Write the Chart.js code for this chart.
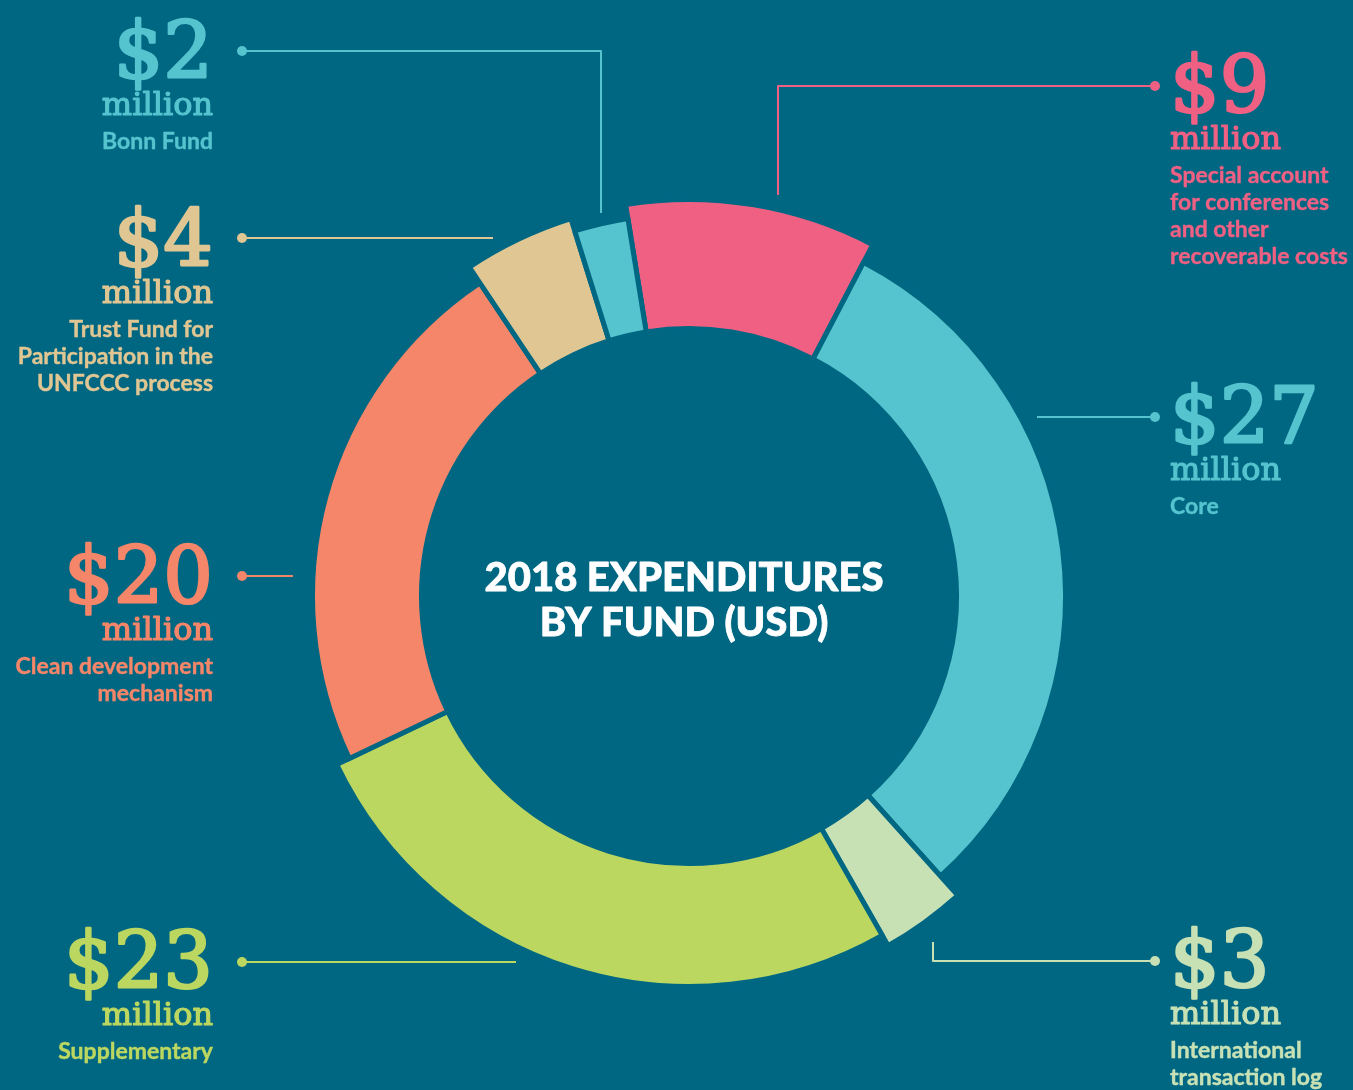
<!DOCTYPE html>
<html>
<head>
<meta charset="utf-8">
<title>2018 expenditures by fund</title>
<script src="https://cdn.jsdelivr.net/npm/chart.js@4.4.0/dist/chart.umd.min.js"></script>
<style>
  html, body { margin: 0; padding: 0; background: #006783; }
  #wrap { width: 1353px; height: 1090px; }
</style>
</head>
<body>
<div id="wrap"><canvas id="funds" width="1353" height="1090"></canvas></div>
<script>
// fund order runs clockwise from the top
var funds = ["Special account for conferences and other recoverable costs", "Core", "International transaction log",
             "Supplementary", "Clean development mechanism", "Trust Fund for Participation in the UNFCCC process", "Bonn Fund"];
var amounts = [9, 27, 3, 23, 20, 4, 2];   // USD million
var amountLabels = ["$9", "$27", "$3", "$23", "$20", "$4", "$2"];
var fundLines = [
  ["Special account", "for conferences", "and other", "recoverable costs"],
  ["Core"],
  ["International", "transaction log"],
  ["Supplementary"],
  ["Clean development", "mechanism"],
  ["Trust Fund for", "Participation in the", "UNFCCC process"],
  ["Bonn Fund"]
];
var colours = ["#EF6083", "#55C4CE", "#C7E1B5", "#BCD760", "#F58669", "#DFC692", "#55C4CE"];

var BG = "#006783";
// how far each slice reaches past the base ring (px)
var depth = [21, 1, 27, 15, 1, 20, 7];

// callout layout: text anchor, number baseline, leader path (dot first)
var callouts = [
  { align: "left",  x: 1170, y: 112, path: [[1155, 86], [778, 86], [778, 195]] },
  { align: "left",  x: 1170, y: 443, path: [[1155, 417], [1037, 417]] },
  { align: "left",  x: 1170, y: 987, path: [[1155, 961], [933, 961], [933, 942]] },
  { align: "right", x: 213,  y: 988, path: [[242, 962], [516, 962]] },
  { align: "right", x: 213,  y: 603, path: [[242, 576], [293, 576]] },
  { align: "right", x: 213,  y: 266, path: [[242, 238], [493, 238]] },
  { align: "right", x: 213,  y: 78,  path: [[242, 51], [601, 51], [601, 213]] }
];

var ringDepth = {
  id: "ringDepth",
  afterDatasetsUpdate: function(chart) {
    chart.getDatasetMeta(0).data.forEach(function(arc, i) {
      arc.outerRadius += depth[i];
    });
  }
};

var callout = {
  id: "callout",
  afterDraw: function(chart) {
    var ctx = chart.ctx;
    ctx.save();
    ctx.lineJoin = "round";
    callouts.forEach(function(c, i) {
      var col = colours[i];
      // leader
      ctx.strokeStyle = col;
      ctx.lineWidth = 2;
      ctx.beginPath();
      c.path.forEach(function(p, k) { k ? ctx.lineTo(p[0], p[1]) : ctx.moveTo(p[0], p[1]); });
      ctx.stroke();
      ctx.fillStyle = col;
      ctx.beginPath();
      ctx.arc(c.path[0][0], c.path[0][1], 5, 0, Math.PI * 2);
      ctx.fill();

      // text block
      ctx.textAlign = c.align;
      ctx.textBaseline = "alphabetic";
      ctx.font = "78px 'DejaVu Serif'";
      ctx.lineWidth = 2.6;
      ctx.fillText(amountLabels[i], c.x, c.y);
      ctx.strokeText(amountLabels[i], c.x, c.y);
      ctx.font = "32px 'DejaVu Serif'";
      ctx.lineWidth = 1.2;
      ctx.fillText("million", c.x, c.y + 37);
      ctx.strokeText("million", c.x, c.y + 37);
      ctx.font = "bold 23px Lato";
      ctx.lineWidth = 0.4;
      fundLines[i].forEach(function(line, k) {
        ctx.fillText(line, c.x, c.y + 71 + k * 27);
        ctx.strokeText(line, c.x, c.y + 71 + k * 27);
      });
    });

    // centre title
    ctx.fillStyle = "#ffffff";
    ctx.strokeStyle = "#ffffff";
    ctx.lineWidth = 0.8;
    ctx.textAlign = "center";
    ctx.font = "900 40px Lato";
    ctx.fillText("2018 EXPENDITURES", 684, 591);
    ctx.strokeText("2018 EXPENDITURES", 684, 591);
    ctx.fillText("BY FUND (USD)", 684, 636);
    ctx.strokeText("BY FUND (USD)", 684, 636);
    ctx.restore();
  }
};

var ctxD = document.getElementById("funds").getContext("2d");
var fundChart = new Chart(ctxD, {
  type: "doughnut",
  data: {
    labels: funds,
    datasets: [{
      data: amounts,
      backgroundColor: colours,
      borderColor: BG,
      borderWidth: 5,
      borderJoinStyle: "miter",
      hoverOffset: 0
    }]
  },
  options: {
    responsive: false,
    animation: false,
    events: [],
    rotation: -9.2,
    cutout: "71.24%",
    layout: { padding: { left: 311, right: 286, top: 218, bottom: 116 } },
    plugins: {
      legend: { display: false },
      tooltip: { enabled: false }
    }
  },
  plugins: [ringDepth, callout]
});
</script>
</body>
</html>
